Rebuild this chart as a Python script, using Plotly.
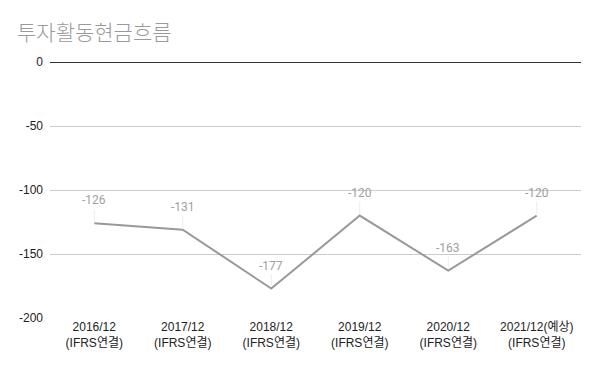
import plotly.graph_objects as go

categories = ["2016/12<br>(IFRS연결)", "2017/12<br>(IFRS연결)", "2018/12<br>(IFRS연결)",
              "2019/12<br>(IFRS연결)", "2020/12<br>(IFRS연결)", "2021/12(예상)<br>(IFRS연결)"]
values = [-126, -131, -177, -120, -163, -120]
y_ticks = [0, -50, -100, -150, -200]

fig = go.Figure()
fig.add_trace(go.Scatter(
    x=list(range(len(categories))), y=values, mode="lines",
    line=dict(color="#999999", width=2), hoverinfo="skip", showlegend=False))

for i, v in enumerate(values):
    fig.add_annotation(x=i, y=v, xref="x", yref="y", text=str(v),
                       showarrow=True, arrowhead=0, arrowwidth=1, arrowcolor="#ececec",
                       ax=0, ay=-14, standoff=2, startstandoff=0,
                       font=dict(family="Roboto, Arial, sans-serif", size=12, color="#a0a0a0"),
                       yanchor="bottom")

fig.update_layout(
    width=600, height=371,
    margin=dict(l=42, r=27, t=54, b=61),
    paper_bgcolor="white", plot_bgcolor="white",
    title=dict(text="투자활동현금흐름", x=0.015, xanchor="left", y=0.933, yanchor="middle",
               font=dict(family="Noto Sans CJK KR, sans-serif", size=21, color="#999999", weight=300)),
    xaxis=dict(tickmode="array", tickvals=list(range(len(categories))), ticktext=categories,
               range=[-0.5, len(categories) - 0.5], showgrid=False, zeroline=False,
               showline=False, ticks="", automargin=False,
               tickfont=dict(family="Arial, Noto Sans CJK KR, sans-serif", size=12, color="#222222")),
    yaxis=dict(range=[-200, 0], tickvals=y_ticks, ticktext=[str(t) for t in y_ticks],
               showgrid=True, gridcolor="#cccccc", gridwidth=1,
               zeroline=True, zerolinecolor="#333333", zerolinewidth=1,
               showline=False, ticks="", ticklabelstandoff=6, automargin=False,
               tickfont=dict(family="Arial, sans-serif", size=12, color="#222222")),
)

fig.write_html("out.html")
